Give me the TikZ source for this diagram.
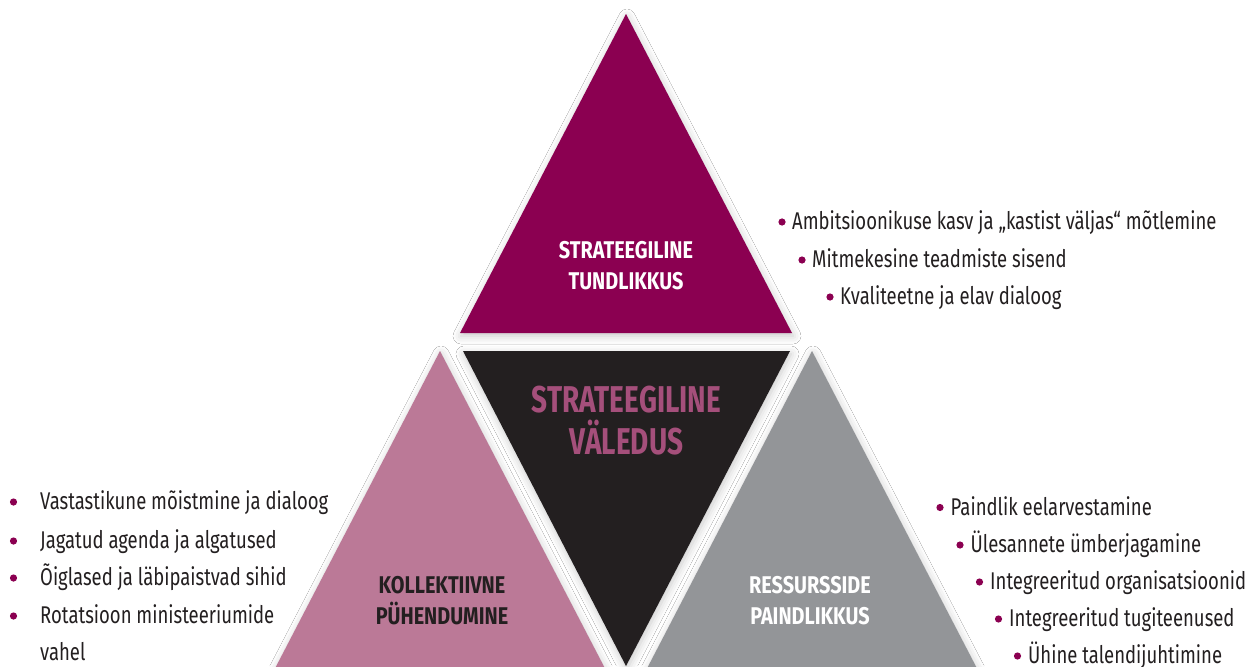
\documentclass[tikz,border=0pt]{standalone}
\usepackage{fontspec}
\setmainfont{Fira Sans}[FakeStretch=0.765]
\newfontfamily\headfont{Fira Sans}[FakeStretch=0.82]
\newfontfamily\bigheadfont{Fira Sans}[FakeStretch=0.75]
\usetikzlibrary{shadows.blur}
\definecolor{topc}{HTML}{8B0051}
\definecolor{pinkc}{HTML}{BB7997}
\definecolor{greyc}{HTML}{939598}
\definecolor{darkc}{HTML}{231F20}
\definecolor{titlec}{HTML}{A54F7B}
\begin{document}
\begin{tikzpicture}[x=1pt, y=-1pt,
  tri/.style={blur shadow={shadow xshift=1pt, shadow yshift=-3pt, shadow blur radius=8pt, shadow opacity=22}},
  headtxt/.style={font=\headfont\bfseries\fontsize{24.2}{31}\selectfont, align=center, inner sep=0pt},
  listtxt/.style={font=\fontsize{24.2}{30}\selectfont, text=darkc, anchor=base west, inner sep=0pt},
  dot/.style={fill=topc}]
  \clip (0,0) rectangle (1246,666);
  \fill[white] (0,0) rectangle (1246,666);
  % triangles
  \fill[topc, tri] (626,14) -- (792,333) -- (460,333) -- cycle;
  \fill[pinkc, tri] (440,351) -- (611,680) -- (269,680) -- cycle;
  \fill[greyc, tri] (812,351) -- (983,680) -- (641,680) -- cycle;
  \fill[darkc, tri] (463,351) -- (790,351) -- (626,666) -- cycle;
  % headings
  \node[headtxt, text=white] (tundlik) at (626,265.5) {STRATEEGILINE\\TUNDLIKKUS};
  \node[headtxt, text=titlec, font=\bigheadfont\bfseries\fontsize{37.3}{42}\selectfont] (valedus) at (626.5,420.5) {STRATEEGILINE\\VÄLEDUS};
  \node[headtxt, text=darkc] (kollekt) at (442,600.5) {KOLLEKTIIVNE\\PÜHENDUMINE};
  \node[headtxt, text=white] (ressurss) at (810,600.5) {RESSURSSIDE\\PAINDLIKKUS};
  % lists
  \foreach \bx/\by/\txt [count=\i] in {782/222/{Ambitsioonikuse kasv ja „kastist väljas“ mõtlemine},
      802/260/{Mitmekesine teadmiste sisend}, 830/297/{Kvaliteetne ja elav dialoog}}
    {\fill[dot] (\bx,\by) circle (3.6);
     \node[listtxt] (tund\i) at (\bx+10,\by+7.7) {\txt};}
  \foreach \by/\txt [count=\i] in {502/{Vastastikune mõistmine ja dialoog}, 541/{Jagatud agenda ja algatused},
      578/{Õiglased ja läbipaistvad sihid}, 616/{Rotatsioon ministeeriumide}}
    {\fill[dot] (13.5,\by) circle (3.6);
     \node[listtxt] (kol\i) at (40,\by+7.7) {\txt};}
  \node[listtxt] (kol5) at (40,660.7) {vahel};
  \foreach \bx/\by/\txt [count=\i] in {940/507.5/{Paindlik eelarvestamine}, 960/545/{Ülesannete ümberjagamine},
      979.5/582/{Integreeritud organisatsioonid}, 998.5/619/{Integreeritud tugiteenused},
      1017.5/656/{Ühine talendijuhtimine}}
    {\fill[dot] (\bx,\by) circle (3.6);
     \node[listtxt] (res\i) at (\bx+10.5,\by+7.7) {\txt};}
\end{tikzpicture}
\end{document}
